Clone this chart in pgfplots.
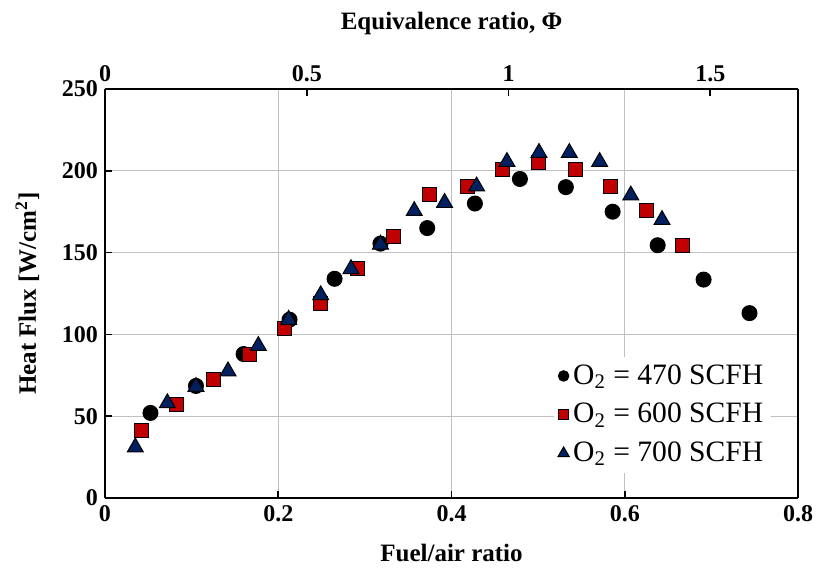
\documentclass[border=0pt]{standalone}
\usepackage{pgfplots}
\pgfplotsset{compat=1.18}
\usepackage{fontspec}
\setmainfont{Liberation Serif}
\definecolor{myred}{HTML}{C00000}
\definecolor{myblue}{HTML}{002060}
\definecolor{mygrid}{HTML}{BFBFBF}
\begin{document}
\begin{tikzpicture}
\useasboundingbox (-52.5pt,-41pt) rectangle (356pt,249pt);
\begin{axis}[
  at={(0,0)}, anchor=south west,
  scale only axis, width=346.5pt, height=204.5pt,
  xmin=0, xmax=0.8, ymin=0, ymax=250,
  xtick={0,0.2,0.4,0.6,0.8}, ytick={0,50,...,250},
  xticklabels={0,0.2,0.4,0.6,0.8},
  axis x line*=bottom, axis y line*=left,
  grid=major, major grid style={mygrid, line width=0.6pt},
  axis line style={line width=1.1pt},
  tick style={black, line width=0.8pt}, major tick length=3.5pt,
  /pgf/number format/assume math mode=true,
  ticklabel style={font=\bfseries\fontsize{12}{14}\selectfont},
  label style={font=\bfseries\fontsize{12.5}{15}\selectfont},
  xlabel={Fuel/air ratio},
  ylabel={Heat Flux [W/cm\textsuperscript{2}]},
  xlabel style={at={(axis description cs:0.5,-0.134)}, anchor=center},
  ylabel style={at={(axis description cs:-0.112,0.5)}, anchor=center},
  legend style={at={(0.962,0.061)}, anchor=south east, draw=none, fill=white,
    font=\fontsize{14.8}{17}\selectfont, row sep=4pt, inner sep=2pt},
  legend cell align=left,
  legend image post style={scale=0.7},
]
\addplot[only marks, mark=*, mark size=3.75pt, mark options={fill=black, draw=black, line width=0.5pt}] coordinates {
(0.0525,52) (0.105,68.5) (0.160,88) (0.213,109) (0.265,134) (0.318,155.5) (0.372,165)
(0.427,180) (0.479,195) (0.532,190) (0.586,175) (0.638,154.5) (0.691,133.5) (0.744,113)};
\addlegendentry{O\textsubscript{2} = 470 SCFH}
\addplot[only marks, mark=square*, mark size=3.5pt, mark options={fill=myred, draw=black, line width=0.5pt}] coordinates {
(0.042,41) (0.083,57) (0.125,72.5) (0.167,87.5) (0.207,103.5) (0.249,119) (0.291,140)
(0.333,160) (0.375,185.5) (0.418,190.5) (0.459,201) (0.501,205) (0.543,201) (0.584,190.5)
(0.625,175.5) (0.667,154.5)};
\addlegendentry{O\textsubscript{2} = 600 SCFH}
\addplot[only marks, mark=triangle*, mark size=4.6pt, mark options={fill=myblue, draw=black, line width=0.5pt}] coordinates {
(0.035,31) (0.072,58) (0.105,68) (0.142,77.5) (0.177,93) (0.212,109) (0.249,124)
(0.284,140) (0.318,155) (0.357,175.5) (0.392,180.5) (0.429,190.5) (0.464,205.5)
(0.501,211) (0.536,211) (0.571,205.5) (0.607,185) (0.643,170)};
\addlegendentry{O\textsubscript{2} = 700 SCFH}
\end{axis}
\begin{axis}[
  at={(0,0)}, anchor=south west,
  scale only axis, width=346.5pt, height=204.5pt,
  xmin=0, xmax=1.7175, ymin=0, ymax=250,
  axis x line*=top, axis y line*=right,
  ytick=\empty, xtick={0,0.5,1,1.5},
  xticklabels={0,0.5,1,1.5},
  axis line style={line width=1.1pt},
  tick style={black, line width=0.8pt}, major tick length=3.5pt,
  /pgf/number format/assume math mode=true,
  ticklabel style={font=\bfseries\fontsize{12}{14}\selectfont},
  label style={font=\bfseries\fontsize{12.5}{15}\selectfont},
  xlabel={Equivalence ratio, Φ},
  xlabel style={at={(axis description cs:0.5,1.159)}, anchor=center},
]
\end{axis}
\end{tikzpicture}
\end{document}
